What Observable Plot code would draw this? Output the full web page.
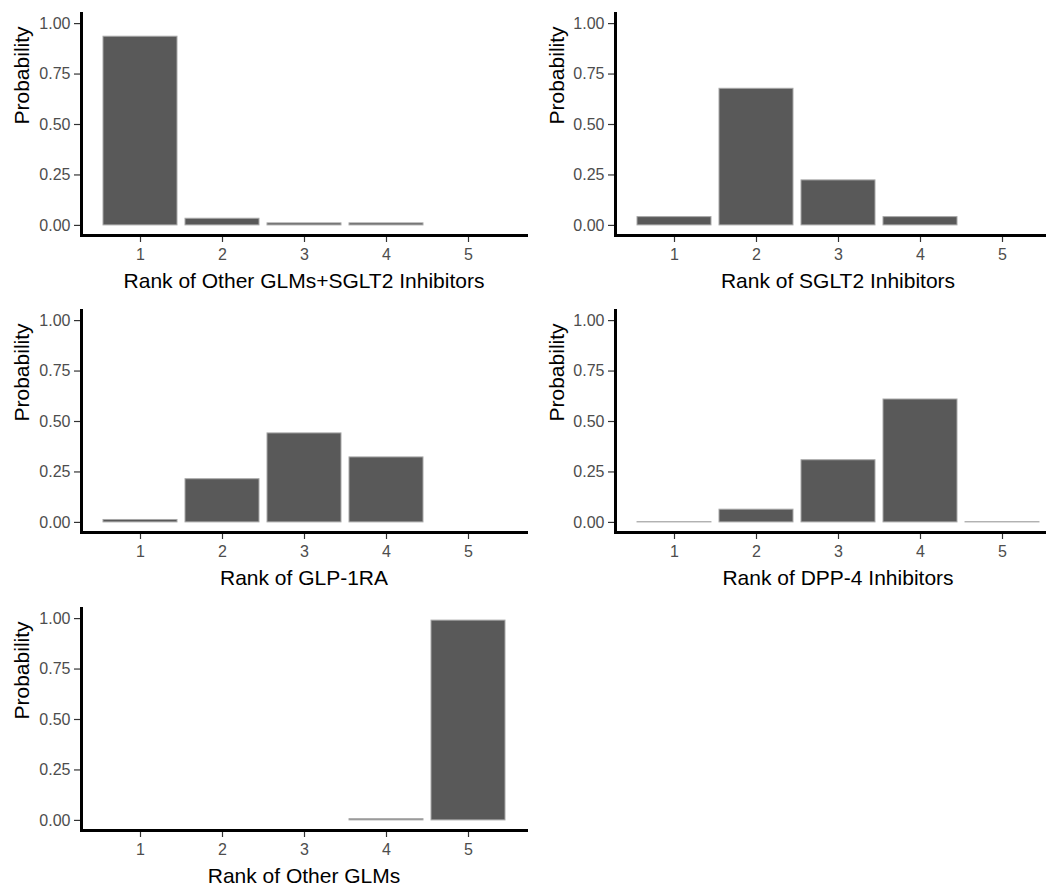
<!DOCTYPE html>
<html>
<head>
<meta charset="utf-8">
<script src="https://cdn.jsdelivr.net/npm/d3@7"></script>
<script src="https://cdn.jsdelivr.net/npm/@observablehq/plot@0.6"></script>
<style>
  html, body { margin: 0; padding: 0; background: white; overflow: hidden; }
  #chart { position: relative; width: 1046px; height: 885px; overflow: hidden; background: white; }
  #chart > div { position: absolute; width: 530px; height: 291px; }
  #chart svg { max-width: none !important; }
</style>
</head>
<body>
<div id="chart"></div>
<script>
// ---- data ----
const ranks = [1, 2, 3, 4, 5];
const yTicks = [0, 0.25, 0.5, 0.75, 1];
const yLabel = "Probability";

const titleOtherSglt2 = "Rank of Other GLMs+SGLT2 Inhibitors";
const probOtherSglt2 = [0.935, 0.033, 0.010, 0.010, null];

const titleSglt2 = "Rank of SGLT2 Inhibitors";
const probSglt2 = [0.041, 0.677, 0.223, 0.041, null];

const titleGlp1 = "Rank of GLP-1RA";
const probGlp1 = [0.012, 0.214, 0.441, 0.322, null];

const titleDpp4 = "Rank of DPP-4 Inhibitors";
const probDpp4 = [0.001, 0.063, 0.308, 0.609, 0.001];

const titleOtherGlm = "Rank of Other GLMs";
const probOtherGlm = [null, null, null, 0.006, 0.990];

// ---- layout ----
const panels = [
  {title: titleOtherSglt2, probs: probOtherSglt2, col: 0, row: 0},
  {title: titleSglt2,      probs: probSglt2,      col: 1, row: 0},
  {title: titleGlp1,       probs: probGlp1,       col: 0, row: 1},
  {title: titleDpp4,       probs: probDpp4,       col: 1, row: 1},
  {title: titleOtherGlm,   probs: probOtherGlm,   col: 0, row: 2}
];
const colLeft = [0, 533.5];
const rowTop = [0, 297, 594.5];
const font = "'Liberation Sans', Arial, Helvetica, sans-serif";

const chart = document.getElementById("chart");

for (const p of panels) {
  const rows = ranks.map((r, i) => ({rank: r, p: p.probs[i]})).filter(d => d.p != null);
  const svg = Plot.plot({
    width: 530,
    height: 291,
    marginLeft: 81,
    marginRight: 4,
    marginTop: 13,
    marginBottom: 56,
    style: {fontFamily: font, background: "transparent", overflow: "visible", maxWidth: "none"},
    x: {type: "band", domain: ranks, paddingInner: 0.1, paddingOuter: 0.245, align: 0.5},
    y: {domain: [0, 1], insetTop: 10.1, insetBottom: 10.1},
    marks: [
      Plot.barY(rows, {x: "rank", y: "p", fill: "#595959", stroke: "#a8a8a8", strokeWidth: 1}),
      Plot.axisY({ticks: yTicks, tickFormat: d3.format(".2f"), tickSize: 7, tickPadding: 4,
                  fontSize: 16, fill: "#4d4d4d", stroke: "#333333", strokeWidth: 1.2, label: null}),
      Plot.axisX({tickSize: 7, tickPadding: 6, fontSize: 16, fill: "#4d4d4d",
                  stroke: "#333333", strokeWidth: 1.2, label: null}),
      Plot.frame({anchor: "left", stroke: "black", strokeWidth: 3, strokeLinecap: "square"}),
      Plot.frame({anchor: "bottom", stroke: "black", strokeWidth: 3, strokeLinecap: "square"}),
      Plot.text([p.title], {frameAnchor: "bottom", dy: 52, fontSize: 21, fill: "black", text: d => d}),
      Plot.text([yLabel], {frameAnchor: "left", dx: p.col ? -58 : -59.3, rotate: -90, fontSize: 21, fill: "black", text: d => d})
    ]
  });
  const holder = document.createElement("div");
  holder.style.left = colLeft[p.col] + "px";
  holder.style.top = rowTop[p.row] + "px";
  holder.appendChild(svg);
  chart.appendChild(holder);
}
</script>
</body>
</html>
